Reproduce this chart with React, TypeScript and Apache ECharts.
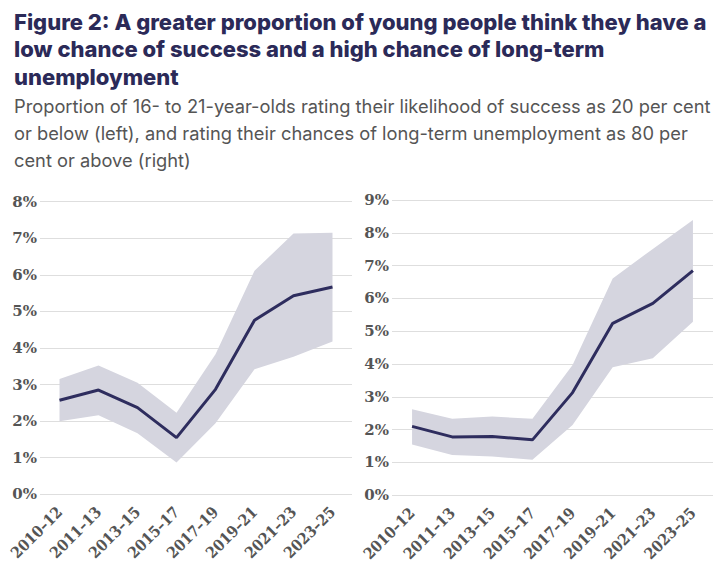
import React, { useEffect, useRef } from "react";
import * as echarts from "echarts";

const categories = ["2010–12", "2011–13", "2013–15", "2015–17", "2017–19", "2019–21", "2021–23", "2023–25"];

const leftMid = [2.57, 2.85, 2.37, 1.55, 2.87, 4.76, 5.43, 5.67];
const leftUpper = [3.15, 3.52, 3.05, 2.23, 3.83, 6.11, 7.13, 7.15];
const leftLower = [2.0, 2.16, 1.67, 0.87, 1.94, 3.42, 3.76, 4.18];

const rightMid = [2.1, 1.78, 1.79, 1.69, 3.13, 5.24, 5.85, 6.85];
const rightUpper = [2.62, 2.33, 2.4, 2.33, 3.97, 6.61, 7.51, 8.39];
const rightLower = [1.55, 1.23, 1.18, 1.08, 2.14, 3.9, 4.18, 5.29];

const leftMax = 8;
const rightMax = 9;

const titleText =
  "Figure 2: A greater proportion of young people think they have a\nlow chance of success and a high chance of long-term\nunemployment";
const subtitleText =
  "Proportion of 16- to 21-year-olds rating their likelihood of success as 20 per cent\nor below (left), and rating their chances of long-term unemployment as 80 per\ncent or above (right)";

const NAVY = "#2e2d5e";
const BAND = "#d5d5df";
const LABEL = "#555555";
const SERIF = "DejaVu Serif";
const SERIF_COND = "DejaVu Serif Condensed";

export default function App() {
  const ref = useRef<HTMLDivElement>(null);

  useEffect(() => {
    if (!ref.current) return;
    const chart = echarts.init(ref.current, undefined, { renderer: "svg" });

    const xAxisBase = (gridIndex: number) => ({
      type: "category" as const,
      gridIndex,
      data: categories,
      boundaryGap: true,
      axisLine: { show: false },
      axisTick: { show: false },
      axisLabel: {
        rotate: 45,
        interval: 0,
        margin: 15,
        color: LABEL,
        fontFamily: SERIF_COND,
        fontWeight: "bold" as const,
        fontSize: 15.5,
      },
    });

    const yAxisBase = (gridIndex: number, max: number) => ({
      type: "value" as const,
      gridIndex,
      min: 0,
      max,
      interval: 1,
      axisLine: { show: false },
      axisTick: { show: false },
      axisLabel: {
        formatter: "{value}%",
        margin: 3,
        color: LABEL,
        fontFamily: SERIF,
        fontWeight: "bold" as const,
        fontSize: 15,
      },
      splitLine: { lineStyle: { color: "#dedede", width: 1 } },
    });

    const diff = (u: number[], l: number[]) => u.map((v, i) => +(v - l[i]).toFixed(2));

    const bandSeries = (idx: number, lower: number[], upper: number[], stack: string) => [
      {
        type: "line" as const,
        xAxisIndex: idx,
        yAxisIndex: idx,
        stack,
        data: lower,
        symbol: "none",
        lineStyle: { opacity: 0 },
        silent: true,
      },
      {
        type: "line" as const,
        xAxisIndex: idx,
        yAxisIndex: idx,
        stack,
        data: diff(upper, lower),
        symbol: "none",
        lineStyle: { opacity: 0 },
        areaStyle: { color: BAND, opacity: 1 },
        silent: true,
      },
    ];

    const midSeries = (idx: number, data: number[]) => ({
      type: "line" as const,
      xAxisIndex: idx,
      yAxisIndex: idx,
      data,
      symbol: "none",
      lineStyle: { color: NAVY, width: 3 },
      z: 5,
    });

    chart.setOption({
      animation: false,
      backgroundColor: "#ffffff",
      title: [
        {
          text: titleText,
          left: 9,
          top: 3,
          textStyle: {
            fontFamily: "Inter",
            fontWeight: 800,
            fontSize: 22,
            lineHeight: 27.5,
            color: "#2b2a58",
          },
        },
        {
          text: subtitleText,
          left: 9,
          top: 88,
          textStyle: {
            fontFamily: "Inter",
            fontWeight: "normal",
            fontSize: 18.3,
            lineHeight: 26.8,
            color: "#555555",
          },
        },
      ],
      grid: [
        { left: 40, top: 201.7, width: 312, height: 292.6, containLabel: false },
        { left: 392, top: 200, width: 321, height: 295.3, containLabel: false },
      ],
      xAxis: [xAxisBase(0), xAxisBase(1)],
      yAxis: [yAxisBase(0, leftMax), yAxisBase(1, rightMax)],
      series: [
        ...bandSeries(0, leftLower, leftUpper, "L"),
        midSeries(0, leftMid),
        ...bandSeries(1, rightLower, rightUpper, "R"),
        midSeries(1, rightMid),
      ],
    });

    return () => chart.dispose();
  }, []);

  return (
    <div
      ref={ref}
      style={{ position: "absolute", left: 0, top: 0, width: 725, height: 582 }}
    />
  );
}
